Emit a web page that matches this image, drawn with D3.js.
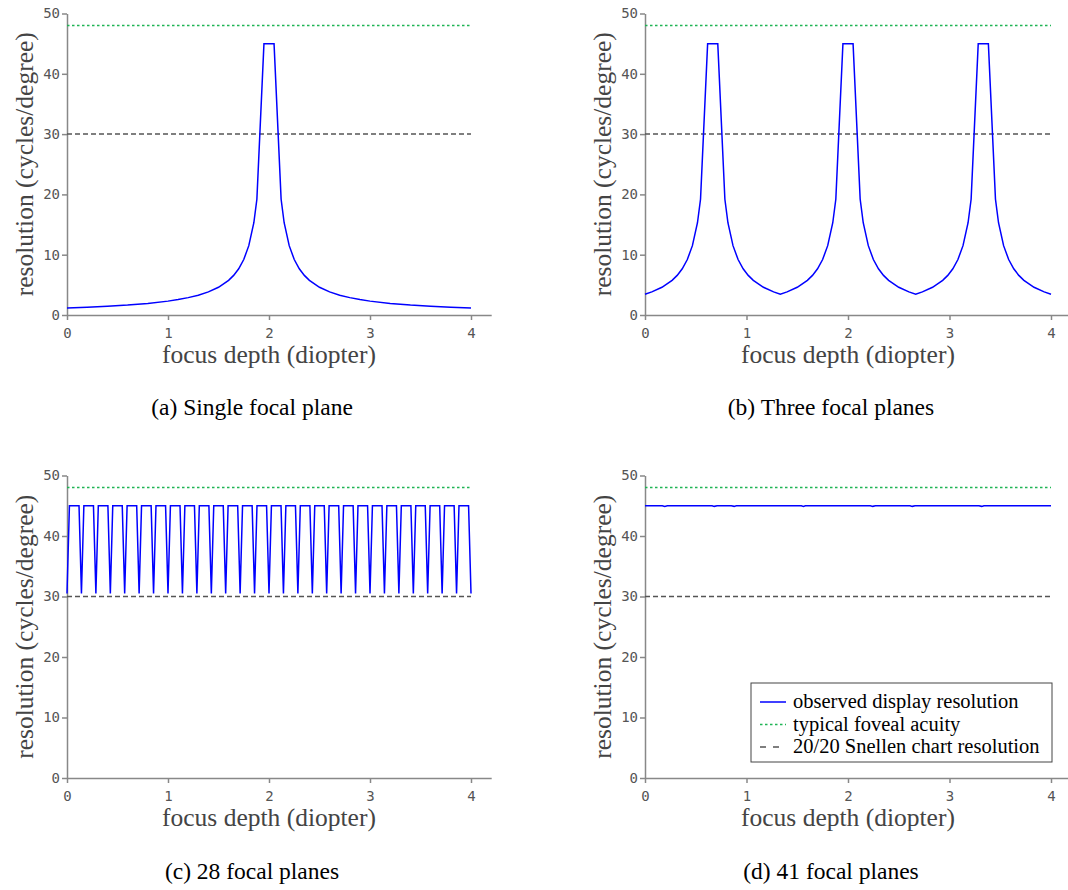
<!DOCTYPE html>
<html>
<head>
<meta charset="utf-8">
<script src="https://cdn.jsdelivr.net/npm/d3@7"></script>
<style>
  body { margin: 0; background: #fff; }
  .tick text { font-family: "DejaVu Sans Mono", monospace; font-size: 14px; fill: #555; }
  .axis-label { font-family: "Liberation Serif", serif; font-size: 25.5px; fill: #444; }
  .caption { font-family: "Liberation Serif", serif; font-size: 23.5px; fill: #000; }
  .legend-text { font-family: "Liberation Serif", serif; font-size: 20.5px; fill: #000; }
</style>
</head>
<body>
<div id="chart"></div>
<script>
// Resolution vs focus depth for 1, 3, 28 and 41 focal planes

const xTicks = [0, 1, 2, 3, 4];
const yTicks = [0, 10, 20, 30, 40, 50];
const acuity = 48;    // typical foveal acuity
const snellen = 30;   // 20/20 Snellen chart resolution

// (a) single focal plane at 2 D
const curveA = [
  [0, 1.15], [0.2, 1.28], [0.4, 1.44], [0.6, 1.64], [0.8, 1.92], [1.0, 2.3],
  [1.1, 2.56], [1.2, 2.88], [1.3, 3.29], [1.4, 3.83], [1.5, 4.6], [1.6, 5.75],
  [1.65, 6.57], [1.7, 7.67], [1.75, 9.2], [1.8, 11.5], [1.85, 15.3], [1.88, 19.2],
  [1.95, 45], [2.05, 45],
  [2.12, 19.2], [2.15, 15.3], [2.2, 11.5], [2.25, 9.2], [2.3, 7.67], [2.35, 6.57],
  [2.4, 5.75], [2.5, 4.6], [2.6, 3.83], [2.7, 3.29], [2.8, 2.88], [2.9, 2.56],
  [3.0, 2.3], [3.2, 1.92], [3.4, 1.64], [3.6, 1.44], [3.8, 1.28], [4.0, 1.15]
];

// (b) three focal planes
const curveB = [
  [0, 3.45], [0.067, 3.83], [0.167, 4.6], [0.267, 5.75], [0.317, 6.57], [0.367, 7.67],
  [0.417, 9.2], [0.467, 11.5], [0.517, 15.3], [0.547, 19.2], [0.617, 45], [0.717, 45],
  [0.787, 19.2], [0.817, 15.3], [0.867, 11.5], [0.917, 9.2], [0.967, 7.67], [1.017, 6.57],
  [1.067, 5.75], [1.167, 4.6], [1.267, 3.83], [1.333, 3.45],
  [1.4, 3.83], [1.5, 4.6], [1.6, 5.75], [1.65, 6.57], [1.7, 7.67], [1.75, 9.2],
  [1.8, 11.5], [1.85, 15.3], [1.88, 19.2], [1.95, 45], [2.05, 45], [2.12, 19.2],
  [2.15, 15.3], [2.2, 11.5], [2.25, 9.2], [2.3, 7.67], [2.35, 6.57], [2.4, 5.75],
  [2.5, 4.6], [2.6, 3.83], [2.667, 3.45],
  [2.733, 3.83], [2.833, 4.6], [2.933, 5.75], [2.983, 6.57], [3.033, 7.67], [3.083, 9.2],
  [3.133, 11.5], [3.183, 15.3], [3.213, 19.2], [3.283, 45], [3.383, 45], [3.453, 19.2],
  [3.483, 15.3], [3.533, 11.5], [3.583, 9.2], [3.633, 7.67], [3.683, 6.57], [3.733, 5.75],
  [3.833, 4.6], [3.933, 3.83], [4.0, 3.45]
];

// (c) 28 focal planes
const curveC = [
  [0, 30.5], [0.024, 45], [0.119, 45], [0.143, 30.5], [0.167, 45], [0.262, 45],
  [0.286, 30.5], [0.31, 45], [0.405, 45], [0.429, 30.5], [0.453, 45], [0.547, 45],
  [0.571, 30.5], [0.595, 45], [0.69, 45], [0.714, 30.5], [0.738, 45], [0.833, 45],
  [0.857, 30.5], [0.881, 45], [0.976, 45], [1.0, 30.5], [1.024, 45], [1.119, 45],
  [1.143, 30.5], [1.167, 45], [1.262, 45], [1.286, 30.5], [1.31, 45], [1.405, 45],
  [1.429, 30.5], [1.453, 45], [1.547, 45], [1.571, 30.5], [1.595, 45], [1.69, 45],
  [1.714, 30.5], [1.738, 45], [1.833, 45], [1.857, 30.5], [1.881, 45], [1.976, 45],
  [2.0, 30.5], [2.024, 45], [2.119, 45], [2.143, 30.5], [2.167, 45], [2.262, 45],
  [2.286, 30.5], [2.31, 45], [2.405, 45], [2.429, 30.5], [2.453, 45], [2.547, 45],
  [2.571, 30.5], [2.595, 45], [2.69, 45], [2.714, 30.5], [2.738, 45], [2.833, 45],
  [2.857, 30.5], [2.881, 45], [2.976, 45], [3.0, 30.5], [3.024, 45], [3.119, 45],
  [3.143, 30.5], [3.167, 45], [3.262, 45], [3.286, 30.5], [3.31, 45], [3.405, 45],
  [3.429, 30.5], [3.453, 45], [3.547, 45], [3.571, 30.5], [3.595, 45], [3.69, 45],
  [3.714, 30.5], [3.738, 45], [3.833, 45], [3.857, 30.5], [3.881, 45], [3.976, 45],
  [4.0, 30.5]
];

// (d) 41 focal planes: nearly flat, tiny dips
const curveD = [
  [0, 45], [0.17, 45], [0.195, 44.9], [0.22, 45], [0.66, 45], [0.683, 44.9],
  [0.71, 45], [0.85, 45], [0.878, 44.9], [0.9, 45], [1.54, 45], [1.561, 44.9],
  [1.58, 45], [2.22, 45], [2.244, 44.9], [2.27, 45], [2.61, 45], [2.634, 44.9],
  [2.66, 45], [3.29, 45], [3.317, 44.9], [3.34, 45], [4.0, 45]
];

const captions = ['(a) Single focal plane', '(b) Three focal planes', '(c) 28 focal planes', '(d) 41 focal planes'];
const legendLabels = ['observed display resolution', 'typical foveal acuity', '20/20 Snellen chart resolution'];

const colors = { curve: '#0000ff', acuity: '#1fb454', snellen: '#555' };
const dashes = { curve: null, acuity: '2.5,2.5', snellen: '5,3' };

const svg = d3.select('#chart')
  .append('svg')
  .attr('width', 1068)
  .attr('height', 890)
  .style('background', '#fff');

// panel layout: left edge of x=0, pixels per diopter, y of 0 and 50, caption centre
const panels = [
  { data: curveA, x0: 67, kx: 101, yb: 315, yt: 13.5, cx: 252, cy: 415 },
  { data: curveB, x0: 645, kx: 101.5, yb: 315, yt: 13.5, cx: 831, cy: 415 },
  { data: curveC, x0: 67, kx: 101, yb: 778, yt: 475.5, cx: 252, cy: 879 },
  { data: curveD, x0: 645, kx: 101.5, yb: 778, yt: 475.5, cx: 831, cy: 879 }
];

panels.forEach((p, i) => {
  const x = d3.scaleLinear().domain([0, 4.2]).range([p.x0, p.x0 + 4.2 * p.kx]);
  const y = d3.scaleLinear().domain([0, 50]).range([p.yb, p.yt]);
  const g = svg.append('g');

  // axes
  const xAxis = g.append('g')
    .attr('transform', `translate(0, ${p.yb})`)
    .call(d3.axisBottom(x).tickValues(xTicks).tickFormat(d3.format('d')).tickSize(5).tickPadding(8).tickSizeOuter(0));
  const yAxis = g.append('g')
    .attr('transform', `translate(${p.x0}, 0)`)
    .call(d3.axisLeft(y).tickValues(yTicks).tickSize(5).tickPadding(2).tickSizeOuter(0));
  [xAxis, yAxis].forEach(a => {
    a.selectAll('path, line').attr('stroke', '#888').attr('stroke-width', 1.5);
  });

  // reference levels
  g.append('line')
    .attr('x1', x(0)).attr('x2', x(4))
    .attr('y1', y(acuity)).attr('y2', y(acuity))
    .attr('stroke', colors.acuity).attr('stroke-width', 1.5)
    .attr('stroke-dasharray', dashes.acuity);
  g.append('line')
    .attr('x1', x(0)).attr('x2', x(4))
    .attr('y1', y(snellen)).attr('y2', y(snellen))
    .attr('stroke', colors.snellen).attr('stroke-width', 1.5)
    .attr('stroke-dasharray', dashes.snellen);

  // resolution curve
  const line = d3.line().x(d => x(d[0])).y(d => y(d[1]));
  g.append('path')
    .datum(p.data)
    .attr('d', line)
    .attr('fill', 'none')
    .attr('stroke', colors.curve)
    .attr('stroke-width', 1.5)
    .attr('stroke-linejoin', 'miter');

  // axis labels
  g.append('text')
    .attr('class', 'axis-label')
    .attr('x', x(2))
    .attr('y', p.yb + 48)
    .attr('text-anchor', 'middle')
    .text('focus depth (diopter)');
  g.append('text')
    .attr('class', 'axis-label')
    .attr('transform', `translate(${p.x0 - 34}, ${(p.yb + p.yt) / 2}) rotate(-90)`)
    .attr('text-anchor', 'middle')
    .text('resolution (cycles/degree)');

  // caption
  g.append('text')
    .attr('class', 'caption')
    .attr('x', p.cx)
    .attr('y', p.cy)
    .attr('text-anchor', 'middle')
    .text(captions[i]);
});

// legend in panel (d)
const legend = svg.append('g').attr('transform', 'translate(751, 683)');
legend.append('rect')
  .attr('width', 301).attr('height', 79)
  .attr('fill', '#fff').attr('stroke', '#444').attr('stroke-width', 1);
const keys = ['curve', 'acuity', 'snellen'];
legendLabels.forEach((label, i) => {
  const ly = 19 + i * 22.5;
  legend.append('line')
    .attr('x1', 9).attr('x2', 35)
    .attr('y1', ly).attr('y2', ly)
    .attr('stroke', colors[keys[i]]).attr('stroke-width', 1.5)
    .attr('stroke-dasharray', keys[i] === 'snellen' ? '6,7' : dashes[keys[i]]);
  legend.append('text')
    .attr('class', 'legend-text')
    .attr('x', 42)
    .attr('y', ly + 6)
    .text(label);
});
</script>
</body>
</html>
